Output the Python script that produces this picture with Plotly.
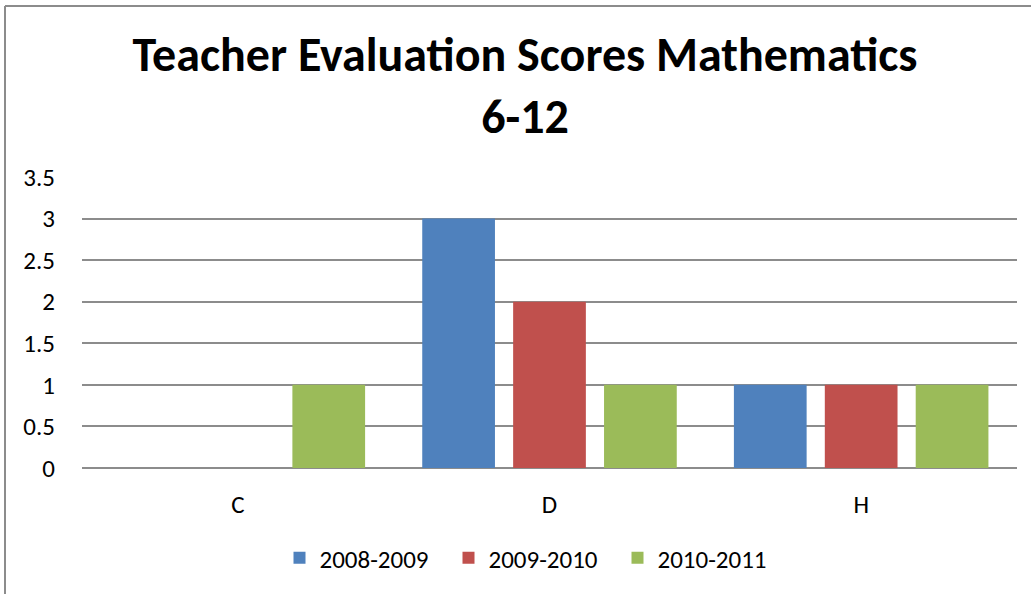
import plotly.graph_objects as go

categories = ["C", "D", "H"]
series_names = ["2008-2009", "2009-2010", "2010-2011"]
values_2008 = [0, 3, 1]
values_2009 = [0, 2, 1]
values_2010 = [1, 1, 1]
colors = ["#4F81BD", "#C0504D", "#9BBB59"]
y_ticks = [0, 0.5, 1, 1.5, 2, 2.5, 3, 3.5]
y_tick_labels = ["0", "0.5", "1", "1.5", "2", "2.5", "3", "3.5"]

FONT = "Carlito, Lato, 'Open Sans', sans-serif"

fig = go.Figure()
for name, vals, col in zip(series_names, [values_2008, values_2009, values_2010], colors):
    fig.add_trace(go.Bar(x=categories, y=vals, name=name, marker=dict(color=col, line=dict(width=0))))

W, H = 1031, 594
ml, mr, mt = 82, 14, 177
ph = 468 - 177
mb = H - mt - ph
pw = W - ml - mr

def px_x(p):
    return (p - ml) / pw

def px_y(p):
    return (mt + ph - p) / ph

fig.update_layout(
    width=W, height=H,
    margin=dict(l=ml, r=mr, t=mt, b=mb),
    paper_bgcolor="white", plot_bgcolor="white",
    barmode="group", bargap=0.125, bargroupgap=0.2,
    font=dict(family=FONT, color="black", size=25),
    title=dict(
        text="<b>Teacher Evaluation Scores Mathematics<br>6-12</b>",
        x=525 / W, xanchor="center", y=1 - 71 / H, yanchor="top",
        font=dict(family=FONT, size=48, color="black"),
    ),
    showlegend=True,
    legend=dict(
        orientation="h", x=px_x(533), xanchor="center", y=px_y(558), yanchor="middle",
        font=dict(size=25), entrywidth=124, entrywidthmode="pixels",
        yref="paper", xref="paper",
    ),
    xaxis=dict(
        showgrid=False, showline=False, zeroline=False, ticks="",
        ticklabelstandoff=19, tickfont=dict(size=25),
    ),
    yaxis=dict(
        range=[0, 3.5], tickvals=y_ticks, ticktext=y_tick_labels,
        showgrid=True, gridcolor="#8C8C8C", gridwidth=1.5,
        zeroline=True, zerolinecolor="#8C8C8C", zerolinewidth=2,
        showline=False, ticks="", ticklabelstandoff=26, tickfont=dict(size=25),
    ),
)

border = dict(color="#8C8C8C", width=2)
fig.add_shape(type="line", xref="paper", yref="paper",
              x0=px_x(5), x1=px_x(5), y0=px_y(6), y1=px_y(700), line=border, layer="below")
fig.add_shape(type="line", xref="paper", yref="paper",
              x0=px_x(5), x1=px_x(1100), y0=px_y(6), y1=px_y(6), line=border, layer="below")

fig.write_html(
    "out.html",
    config={"displayModeBar": False},
    post_script="document.body.style.margin='0';document.body.style.padding='0';document.body.style.overflow='hidden';",
)
